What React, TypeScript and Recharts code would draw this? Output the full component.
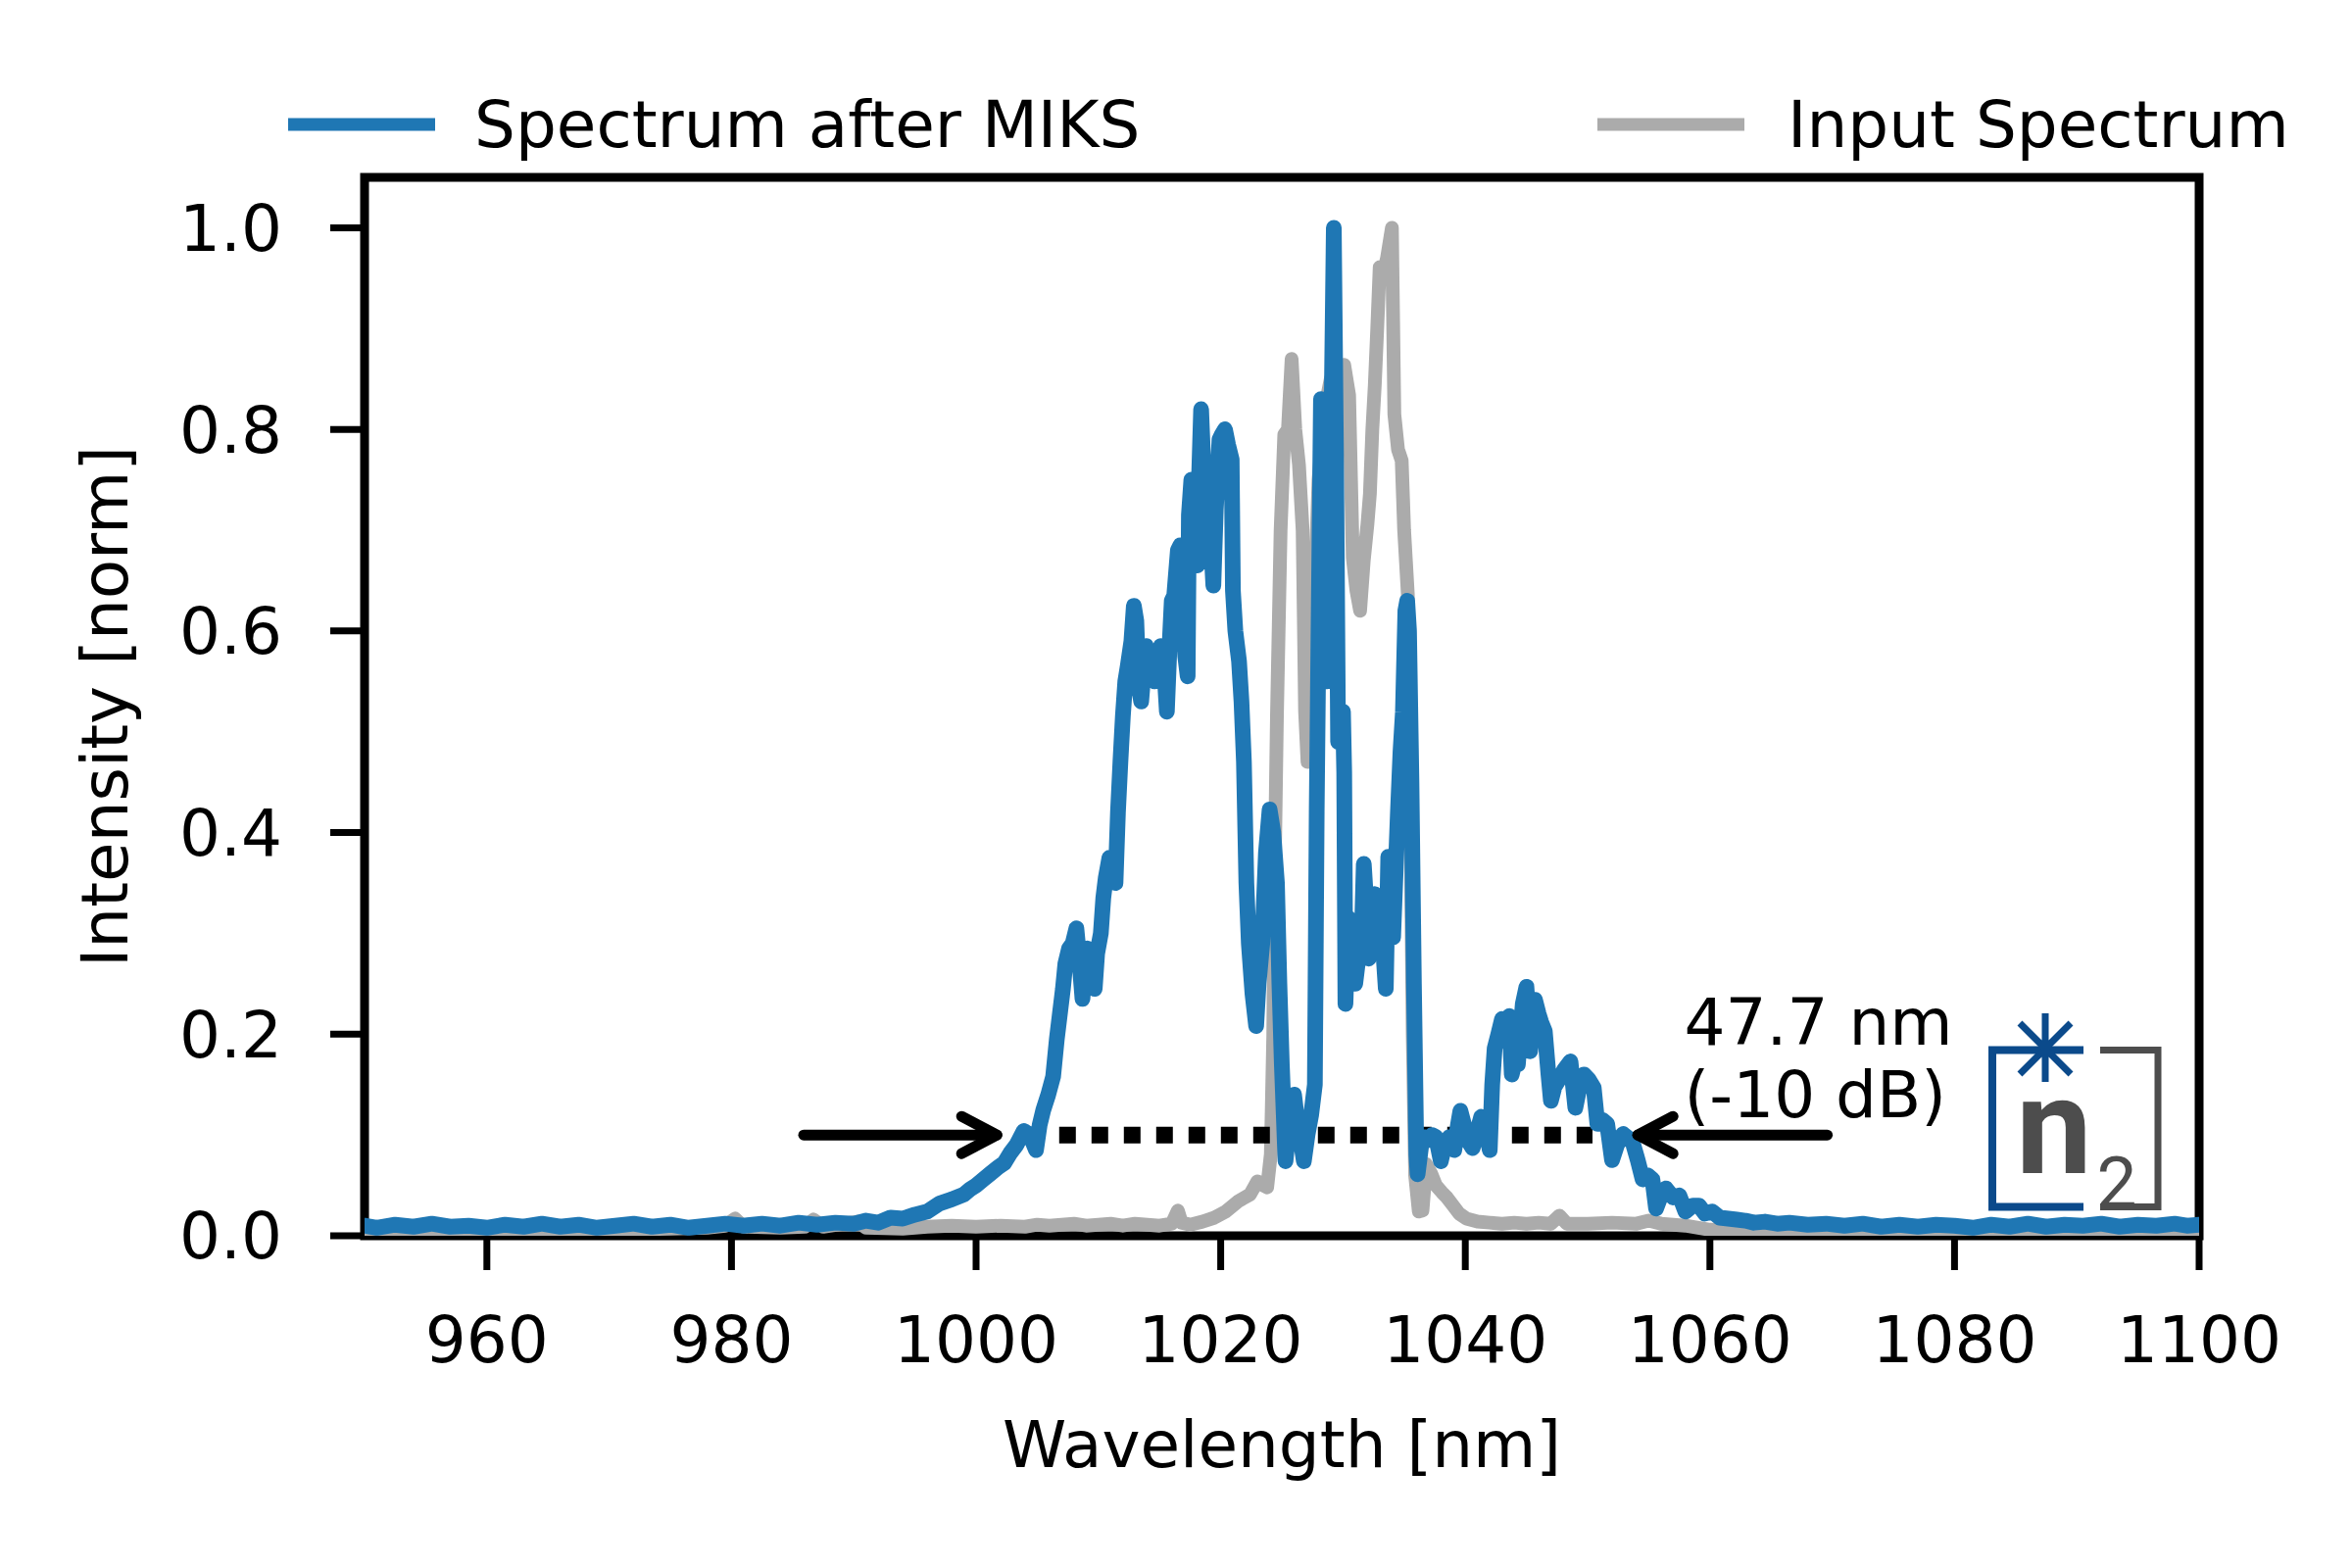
import React from 'react';
import { LineChart, Line, XAxis, YAxis, Legend, ReferenceDot } from 'recharts';

// spectrum after MIKS (blue)
const afterWl = [
  950, 951, 952.5, 954, 955.5, 957, 958.5, 960, 961.5, 963,
  964.5, 966, 967.5, 969, 970.5, 972, 973.5, 975, 976.5, 978,
  979.5, 981, 982.5, 984, 985.5, 987, 988.5, 990, 991, 992,
  993, 994, 995, 996, 997, 998, 999, 999.5, 1000, 1000.6,
  1001.2, 1001.8, 1002.3, 1002.8, 1003.3, 1003.9, 1004.4, 1004.9, 1005.2, 1005.5,
  1005.9, 1006.3, 1006.6, 1006.9, 1007.1, 1007.3, 1007.6, 1007.9, 1008.2, 1008.4,
  1008.7, 1008.9, 1009.1, 1009.4, 1009.7, 1009.9, 1010.2, 1010.4, 1010.6, 1010.9,
  1011.1, 1011.4, 1011.6, 1011.8, 1012.0, 1012.2, 1012.4, 1012.7, 1012.9, 1013.1,
  1013.3, 1013.5, 1013.7, 1013.9, 1014.1, 1014.4, 1014.6, 1014.8, 1015.1, 1015.4,
  1015.6, 1015.8, 1016.0, 1016.2, 1016.5, 1016.7, 1016.9, 1017.1, 1017.3, 1017.4,
  1017.6, 1017.9, 1018.1, 1018.2, 1018.4, 1018.6, 1018.8, 1019.0, 1019.2, 1019.4,
  1019.6, 1019.9, 1020.1, 1020.35, 1020.6, 1020.9, 1021.0, 1021.2, 1021.5, 1021.7,
  1021.9, 1022.1, 1022.3, 1022.6, 1022.9, 1023.1, 1023.4, 1023.7, 1024.0, 1024.3,
  1024.6, 1024.8, 1025.0, 1025.3, 1025.6, 1026.0, 1026.3, 1026.6, 1026.8, 1027.1,
  1027.4, 1027.7, 1027.85, 1028.0, 1028.2, 1028.45, 1028.7, 1028.9, 1029.1, 1029.25,
  1029.45, 1029.6, 1029.8, 1030.0, 1030.1, 1030.2, 1030.45, 1030.7, 1031.0, 1031.2,
  1031.5, 1031.7, 1031.9, 1032.1, 1032.3, 1032.6, 1032.9, 1033.2, 1033.5, 1033.7,
  1033.9, 1034.1, 1034.3, 1034.5, 1034.7, 1034.9, 1035.1, 1035.25, 1035.4, 1035.6,
  1035.8, 1036.0, 1036.1, 1036.4, 1036.6, 1037.0, 1037.3, 1037.6, 1038.0, 1038.3,
  1038.7, 1039.1, 1039.4, 1039.6, 1039.9, 1040.2, 1040.6, 1040.9, 1041.3, 1041.6,
  1042.0, 1042.2, 1042.4, 1042.7, 1043.0, 1043.3, 1043.6, 1043.8, 1044.1, 1044.3,
  1044.5, 1044.7, 1045.0, 1045.15, 1045.3, 1045.5, 1045.7, 1046.0, 1046.2, 1046.5,
  1046.8, 1047.0, 1047.3, 1047.7, 1048.1, 1048.6, 1049.0, 1049.3, 1049.7, 1050.1,
  1050.5, 1050.8, 1051.2, 1051.6, 1052.0, 1052.4, 1052.9, 1053.3, 1053.7, 1054.1,
  1054.5, 1054.9, 1055.3, 1055.6, 1056.0, 1056.4, 1057.0, 1057.5, 1058.0, 1058.6,
  1059.1, 1059.6, 1060.2, 1060.8, 1061.5, 1062.2, 1062.9, 1063.6, 1064.5, 1065.5,
  1066.5, 1068, 1069.5, 1071, 1072.5, 1074, 1075.5, 1077, 1078.5, 1080,
  1081.5, 1083, 1084.5, 1086, 1087.5, 1089, 1090.5, 1092, 1093.5, 1095,
  1096.5, 1098, 1099, 1100,
];
const afterVal = [
  0.010, 0.008, 0.011, 0.009, 0.012, 0.009, 0.010, 0.008, 0.011, 0.009,
  0.012, 0.009, 0.011, 0.008, 0.010, 0.012, 0.009, 0.011, 0.008, 0.010,
  0.012, 0.010, 0.012, 0.010, 0.013, 0.011, 0.013, 0.012, 0.015, 0.013,
  0.018, 0.017, 0.021, 0.024, 0.032, 0.036, 0.041, 0.046, 0.050, 0.056,
  0.062, 0.068, 0.072, 0.082, 0.090, 0.104, 0.100, 0.085, 0.110, 0.125,
  0.140, 0.158, 0.195, 0.225, 0.245, 0.270, 0.285, 0.290, 0.305, 0.280,
  0.235, 0.270, 0.285, 0.270, 0.245, 0.280, 0.300, 0.335, 0.355, 0.375,
  0.360, 0.350, 0.420, 0.470, 0.515, 0.550, 0.565, 0.590, 0.625, 0.610,
  0.545, 0.530, 0.560, 0.585, 0.575, 0.580, 0.550, 0.575, 0.585, 0.560,
  0.520, 0.580, 0.630, 0.635, 0.680, 0.685, 0.640, 0.575, 0.555, 0.715,
  0.750, 0.720, 0.665, 0.740, 0.820, 0.760, 0.710, 0.740, 0.690, 0.645,
  0.720, 0.790, 0.795, 0.800, 0.785, 0.770, 0.640, 0.600, 0.570, 0.530,
  0.470, 0.350, 0.290, 0.240, 0.208, 0.250, 0.290, 0.380, 0.423, 0.400,
  0.350, 0.250, 0.170, 0.074, 0.110, 0.140, 0.110, 0.090, 0.074, 0.100,
  0.120, 0.150, 0.420, 0.600, 0.830, 0.780, 0.550, 0.600, 0.850, 1.000,
  0.750, 0.490, 0.500, 0.520, 0.460, 0.230, 0.315, 0.300, 0.250, 0.270,
  0.280, 0.369, 0.330, 0.275, 0.310, 0.339, 0.335, 0.300, 0.245, 0.376,
  0.330, 0.296, 0.360, 0.423, 0.480, 0.520, 0.620, 0.630, 0.600, 0.450,
  0.250, 0.080, 0.061, 0.090, 0.098, 0.095, 0.100, 0.098, 0.074, 0.090,
  0.098, 0.085, 0.110, 0.124, 0.110, 0.095, 0.087, 0.100, 0.118, 0.110,
  0.085, 0.150, 0.186, 0.200, 0.215, 0.210, 0.218, 0.160, 0.175, 0.170,
  0.200, 0.230, 0.247, 0.220, 0.183, 0.210, 0.234, 0.220, 0.212, 0.203,
  0.160, 0.134, 0.148, 0.156, 0.165, 0.173, 0.127, 0.145, 0.160, 0.155,
  0.147, 0.111, 0.115, 0.111, 0.075, 0.090, 0.101, 0.097, 0.092, 0.075,
  0.056, 0.060, 0.056, 0.027, 0.040, 0.047, 0.038, 0.040, 0.024, 0.030,
  0.030, 0.022, 0.024, 0.018, 0.017, 0.016, 0.015, 0.013, 0.014, 0.012,
  0.013, 0.011, 0.012, 0.010, 0.012, 0.009, 0.011, 0.009, 0.011, 0.010,
  0.008, 0.011, 0.009, 0.012, 0.009, 0.011, 0.010, 0.012, 0.009, 0.011,
  0.010, 0.012, 0.010, 0.011,
];

// input spectrum (grey)
const inputWl = [
  950, 955, 960, 965, 970, 975, 978, 979.5, 980.3, 981,
  984, 986, 986.7, 987.5, 990.3, 991, 994, 996, 998, 1000,
  1002, 1004, 1005, 1006, 1008, 1009, 1010, 1011, 1012, 1013,
  1014, 1015, 1016, 1016.5, 1016.8, 1017.5, 1018.5, 1019.5, 1020.4, 1021.4,
  1022.4, 1023.0, 1023.5, 1023.8, 1024.1, 1024.3, 1024.4, 1024.6, 1024.9, 1025.2,
  1025.5, 1025.8, 1026.1, 1026.4, 1026.7, 1026.9, 1027.1, 1027.3, 1027.6, 1028.0,
  1028.5, 1029.0, 1029.6, 1030.1, 1030.5, 1030.8, 1031.1, 1031.4, 1031.7, 1032.0,
  1032.2, 1032.4, 1032.6, 1032.8, 1033.0, 1033.3, 1033.6, 1034.0, 1034.2, 1034.5,
  1034.8, 1035.0, 1035.3, 1035.5, 1035.7, 1035.9, 1036.2, 1036.5, 1036.8, 1037.2,
  1037.6, 1038.1, 1038.5, 1039.0, 1039.5, 1040.1, 1041, 1042, 1043, 1044,
  1045, 1046, 1047, 1047.7, 1048.3, 1050, 1052, 1054, 1055, 1056,
  1058, 1060, 1065, 1070, 1075, 1080, 1090, 1100,
];
const inputVal = [
  0.006, 0.007, 0.006, 0.007, 0.006, 0.007, 0.008, 0.010, 0.017, 0.009,
  0.008, 0.009, 0.016, 0.009, 0.014, 0.008, 0.007, 0.009, 0.010, 0.009,
  0.010, 0.009, 0.011, 0.010, 0.012, 0.010, 0.011, 0.012, 0.010, 0.012,
  0.011, 0.010, 0.012, 0.025, 0.013, 0.011, 0.014, 0.018, 0.024, 0.034,
  0.041, 0.054, 0.050, 0.048, 0.081, 0.200, 0.350, 0.516, 0.700, 0.795,
  0.800, 0.870, 0.800, 0.765, 0.700, 0.520, 0.470, 0.480, 0.600, 0.750,
  0.820, 0.850, 0.860, 0.864, 0.834, 0.673, 0.640, 0.620, 0.670, 0.706,
  0.736, 0.800, 0.844, 0.900, 0.961, 0.955, 0.970, 1.000, 0.815, 0.780,
  0.769, 0.700, 0.637, 0.450, 0.200, 0.060, 0.024, 0.025, 0.071, 0.062,
  0.050, 0.043, 0.038, 0.030, 0.022, 0.017, 0.014, 0.013, 0.012, 0.013,
  0.012, 0.013, 0.012, 0.020, 0.012, 0.012, 0.013, 0.012, 0.015, 0.012,
  0.010, 0.006, 0.005, 0.006, 0.005, 0.006, 0.005, 0.006,
];

const xTicks = [960, 980, 1000, 1020, 1040, 1060, 1080, 1100];
const yTicks = [0, 0.2, 0.4, 0.6, 0.8, 1.0];

// -10 dB bandwidth annotation
const level = 0.1;
const bandWl = [1004.15, 1050.4];
const leftArrowWl = [985.9, 1001.7];
const rightArrowWl = [1069.6, 1054.1];
const bandText = ['47.7 nm', '(-10 dB)'];
const bandTextAt = { x: 1057.9, y: 0.19 };

const BLUE = '#1f77b4';
const GREY = '#ababab';
const FONT = 'DejaVu Sans';

const pts = (xs: number[], ys: number[]) => xs.map((x, i) => ({ x, y: ys[i] }));
const flat = (xs: number[], y: number) => xs.map((x) => ({ x, y }));

const afterData = pts(afterWl, afterVal);
const inputData = pts(inputWl, inputVal);

const arrowHead = (dir: number) => (p: any) => {
  if (p.index !== 1) return <g key={`h${p.index}`} />;
  const { cx, cy } = p;
  return (
    <path
      key="head"
      d={`M${cx - dir * 36},${cy - 19} L${cx},${cy} L${cx - dir * 36},${cy + 19}`}
      stroke="#000"
      strokeWidth={11}
      fill="none"
      strokeLinecap="round"
      strokeLinejoin="round"
    />
  );
};

const renderLegend = () => (
  <svg width={2400} height={90} style={{ display: 'block', overflow: 'visible' }}>
    <line x1={294} x2={444} y1={30} y2={30} stroke={BLUE} strokeWidth={13} />
    <text x={484} y={53} fontFamily={FONT} fontSize={66} fill="#000">
      Spectrum after MIKS
    </text>
    <line x1={1630} x2={1780} y1={30} y2={30} stroke={GREY} strokeWidth={13} />
    <text x={1824} y={53} fontFamily={FONT} fontSize={66} fill="#000">
      Input Spectrum
    </text>
  </svg>
);

const bandLabel = (p: any) => (
  <g>
    <text x={p.cx} y={p.cy} fontFamily={FONT} fontSize={66} fill="#000">
      {bandText[0]}
    </text>
    <text x={p.cx} y={p.cy + 74} fontFamily={FONT} fontSize={66} fill="#000">
      {bandText[1]}
    </text>
  </g>
);

const tickStyle = { fontFamily: FONT, fontSize: 66, fill: '#000' };
const tickLine = { stroke: '#000', strokeWidth: 7 };

export default function App() {
  return (
    <div style={{ position: 'absolute', left: 0, top: 0, width: 2400, height: 1600, background: '#fff' }}>
      <LineChart width={2400} height={1600} margin={{ top: 181, right: 156, bottom: 239, left: 272 }}>
        <XAxis
          type="number"
          dataKey="x"
          domain={[950, 1100]}
          ticks={xTicks}
          interval={0}
          allowDataOverflow
          height={100}
          axisLine={false}
          tickLine={tickLine}
          tickSize={35}
          tickMargin={47}
          tick={tickStyle}
        />
        <YAxis
          type="number"
          dataKey="y"
          domain={[0, 1.05]}
          ticks={yTicks}
          interval={0}
          allowDataOverflow
          width={100}
          axisLine={false}
          tickLine={tickLine}
          tickSize={35}
          tickMargin={49}
          tick={tickStyle}
          tickFormatter={(v: number) => v.toFixed(1)}
        />
        <Legend
          layout="horizontal"
          verticalAlign="middle"
          align="center"
          content={renderLegend}
          wrapperStyle={{ top: 97, left: 0, width: 2400, height: 90 }}
        />
        <Line
          data={inputData}
          dataKey="y"
          name="Input Spectrum"
          stroke={GREY}
          strokeWidth={14}
          strokeLinejoin="round"
          strokeLinecap="round"
          dot={false}
          isAnimationActive={false}
        />
        <Line
          data={flat(bandWl, level)}
          dataKey="y"
          legendType="none"
          stroke="#000"
          strokeWidth={17}
          strokeDasharray="17 16"
          dot={false}
          isAnimationActive={false}
        />
        <Line
          data={afterData}
          dataKey="y"
          name="Spectrum after MIKS"
          stroke={BLUE}
          strokeWidth={16}
          strokeLinejoin="round"
          strokeLinecap="round"
          dot={false}
          isAnimationActive={false}
        />
        <Line
          data={flat(leftArrowWl, level)}
          dataKey="y"
          legendType="none"
          stroke="#000"
          strokeWidth={11}
          strokeLinecap="round"
          dot={arrowHead(1)}
          isAnimationActive={false}
        />
        <Line
          data={flat(rightArrowWl, level)}
          dataKey="y"
          legendType="none"
          stroke="#000"
          strokeWidth={11}
          strokeLinecap="round"
          dot={arrowHead(-1)}
          isAnimationActive={false}
        />
        <ReferenceDot x={bandTextAt.x} y={bandTextAt.y} r={0} shape={bandLabel} />
        {/* axes frame */}
        <rect x={372} y={181} width={1872} height={1080} fill="none" stroke="#000" strokeWidth={9} />
        <text x={1308} y={1497} textAnchor="middle" fontFamily={FONT} fontSize={66} fill="#000">
          Wavelength [nm]
        </text>
        <text
          x={130}
          y={721}
          textAnchor="middle"
          transform="rotate(-90 130 721)"
          fontFamily={FONT}
          fontSize={66}
          fill="#000"
        >
          Intensity [norm]
        </text>
        {/* n2 logo */}
        <g>
          <path d="M2126,1071.5 L2033,1071.5 L2033,1231.5 L2126,1231.5" stroke="#0b4a8b" strokeWidth={8} fill="none" />
          <path d="M2143,1071.5 L2202,1071.5 L2202,1231.5 L2143,1231.5" stroke="#4d4d4d" strokeWidth={7} fill="none" />
          <path
            d="M2087,1034 L2087,1104 M2061,1044 L2113,1096 M2113,1044 L2061,1096"
            stroke="#0b4a8b"
            strokeWidth={7}
            fill="none"
          />
          <text x={2096} y={1197} textAnchor="middle" fontFamily="Roboto" fontWeight={700} fontSize={138} fill="#4d4d4d">
            n
          </text>
          <text x={2160} y={1232} textAnchor="middle" fontFamily="Roboto" fontSize={73} fill="#4d4d4d">
            2
          </text>
        </g>
      </LineChart>
    </div>
  );
}
